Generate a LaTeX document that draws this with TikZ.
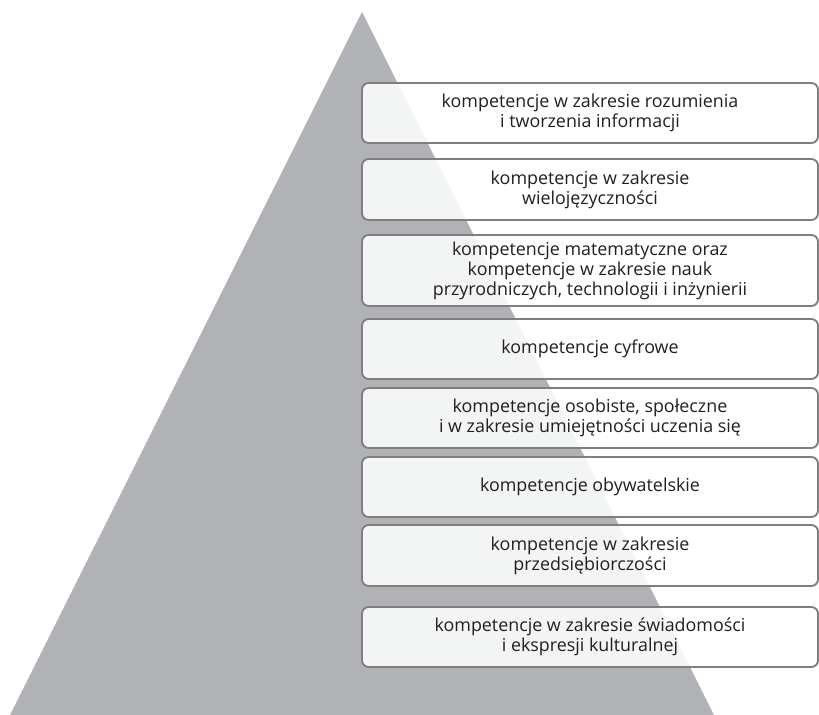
\documentclass[tikz,border=0pt]{standalone}
\usepackage{fontspec}
\setmainfont{Open Sans}
\definecolor{tri}{HTML}{B1B2B5}
\definecolor{edge}{HTML}{7F7F7F}
\definecolor{txt}{HTML}{231F20}
\begin{document}
\begin{tikzpicture}[x=0.75pt,y=-0.75pt,
  box/.style={draw=edge, line width=1.4pt, fill=white, fill opacity=0.86, text opacity=1,
    rounded corners=5pt, text=txt, align=center,
    font=\fontsize{13.4}{15}\selectfont}]
\useasboundingbox (0,0) rectangle (819,715);
\fill[tri] (362,12) -- (714,715) -- (10,715) -- cycle;
\def\mybox#1#2#3#4{\node[box, minimum width=456*0.75pt, minimum height=(#3-#2)*0.75pt, inner sep=0pt] (#1) at (590,{(#2+#3)/2}) {#4};}
\mybox{k1}{83}{143}{kompetencje w zakresie rozumienia\\i tworzenia informacji}
\mybox{k2}{159}{220}{kompetencje w zakresie\\wielojęzyczności}
\mybox{k3}{235}{306}{kompetencje matematyczne oraz\\kompetencje w zakresie nauk\\przyrodniczych, technologii i inżynierii}
\mybox{k4}{319}{379}{kompetencje cyfrowe}
\mybox{k5}{388}{448}{kompetencje osobiste, społeczne\\i w zakresie umiejętności uczenia się}
\mybox{k6}{457}{517}{kompetencje obywatelskie}
\mybox{k7}{525}{586}{kompetencje w zakresie\\przedsiębiorczości}
\mybox{k8}{607}{667}{kompetencje w zakresie świadomości\\i ekspresji kulturalnej}
\end{tikzpicture}
\end{document}
